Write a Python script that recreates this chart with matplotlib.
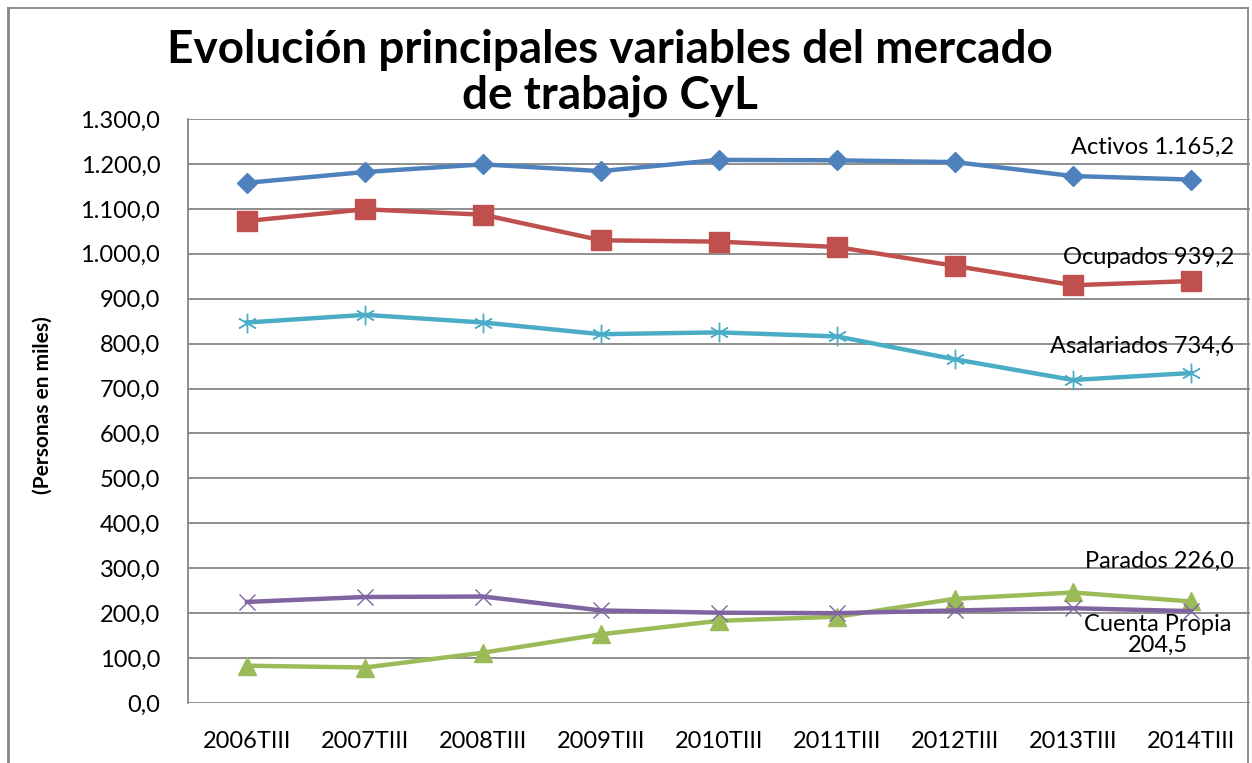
import matplotlib
matplotlib.use('Agg')
import matplotlib.pyplot as plt
from matplotlib.lines import Line2D
from matplotlib.ticker import FuncFormatter, MultipleLocator

# Data (miles de personas)
periodos = ["2006TIII", "2007TIII", "2008TIII", "2009TIII", "2010TIII",
            "2011TIII", "2012TIII", "2013TIII", "2014TIII"]
activos = [1158, 1182, 1199, 1184, 1209, 1208, 1204, 1173, 1165.2]
ocupados = [1073, 1099, 1087, 1030, 1027, 1015, 973, 930, 939.2]
asalariados = [847, 864, 847, 821, 825, 816, 765, 719, 734.6]
parados = [83, 79, 112, 153, 183, 192, 232, 246, 226.0]
cuenta_propia = [225, 236, 237, 206, 201, 200, 206, 211, 204.5]

FONT = "Lato"
plt.rcParams['font.family'] = [FONT, 'DejaVu Sans']

W, H = 1252, 763
fig = plt.figure(figsize=(W / 100, H / 100), dpi=100)
ax = fig.add_axes([188 / W, 1 - 703 / H, (1250 - 188) / W, (703 - 119) / H])

x = list(range(len(periodos)))

ax.plot(x, activos, color='#4F81BD', lw=3.2, marker='D', ms=10, zorder=5)
ax.plot(x, ocupados, color='#C0504D', lw=3.2, marker='s', ms=14, zorder=5)
ax.plot(x, asalariados, color='#4BACC6', lw=3.2, marker=(6, 2, 0), ms=14,
        mec='#4BACC6', mew=1, zorder=5)
ax.plot(x, parados, color='#9BBB59', lw=3.2, marker='^', ms=13, zorder=4)
ax.plot(x, cuenta_propia, color='#8064A2', lw=3.2, marker='x', ms=11,
        mec='#8064A2', mew=1, zorder=5)

ax.set_xlim(-0.5, len(periodos) - 0.5)
ax.set_ylim(0, 1300)
ax.yaxis.set_major_locator(MultipleLocator(100))


def fmt_es(v, pos):
    s = f"{v:,.1f}"
    return s.replace(",", "X").replace(".", ",").replace("X", ".")


ax.yaxis.set_major_formatter(FuncFormatter(fmt_es))
ax.set_xticks(x)
ax.set_xticklabels(periodos)
ax.tick_params(axis='both', length=0, labelsize=17, colors='black')
ax.tick_params(axis='x', pad=20)
ax.tick_params(axis='y', pad=20)

ax.grid(axis='y', color='#868686', lw=1.3)
ax.set_axisbelow(True)
for side in ['top', 'right', 'bottom']:
    ax.spines[side].set_visible(False)
ax.spines['left'].set_color('#868686')
ax.spines['left'].set_linewidth(1.3)

# Data labels at the last point (offsets in points)
last = len(periodos) - 1
labels = [
    (activos, "Activos 1.165,2", 23),
    (ocupados, "Ocupados 939,2", 17),
    (asalariados, "Asalariados 734,6", 19.5),
    (parados, "Parados 226,0", 29),
]
for serie, txt, dy in labels:
    ax.annotate(txt, xy=(last, serie[-1]), xytext=(31, dy),
                textcoords='offset points', ha='right', va='center',
                fontsize=17)
ax.annotate("Cuenta Propia\n204,5", xy=(last, cuenta_propia[-1]),
            xytext=(-24, -2), textcoords='offset points', ha='center',
            va='top', fontsize=17, linespacing=1.0)

fig.text(0.487, 1 - 73 / H, "Evolución principales variables del mercado\nde trabajo CyL",
         ha='center', va='center', fontsize=33, fontweight='bold',
         linespacing=1.1)
fig.text(43 / W, 1 - 405 / H, "(Personas en miles)", rotation=90,
         ha='center', va='center', fontsize=15, fontweight='bold')

# chart border
bc = '#868686'
fig.add_artist(Line2D([8 / W, 8 / W], [0, 1 - 8 / H], color=bc, lw=2))
fig.add_artist(Line2D([8 / W, 1248 / W], [1 - 8 / H, 1 - 8 / H], color=bc, lw=1.3))
fig.add_artist(Line2D([1248 / W, 1248 / W], [0, 1 - 8 / H], color=bc, lw=1.3))

fig.savefig("out.png", dpi=100)
